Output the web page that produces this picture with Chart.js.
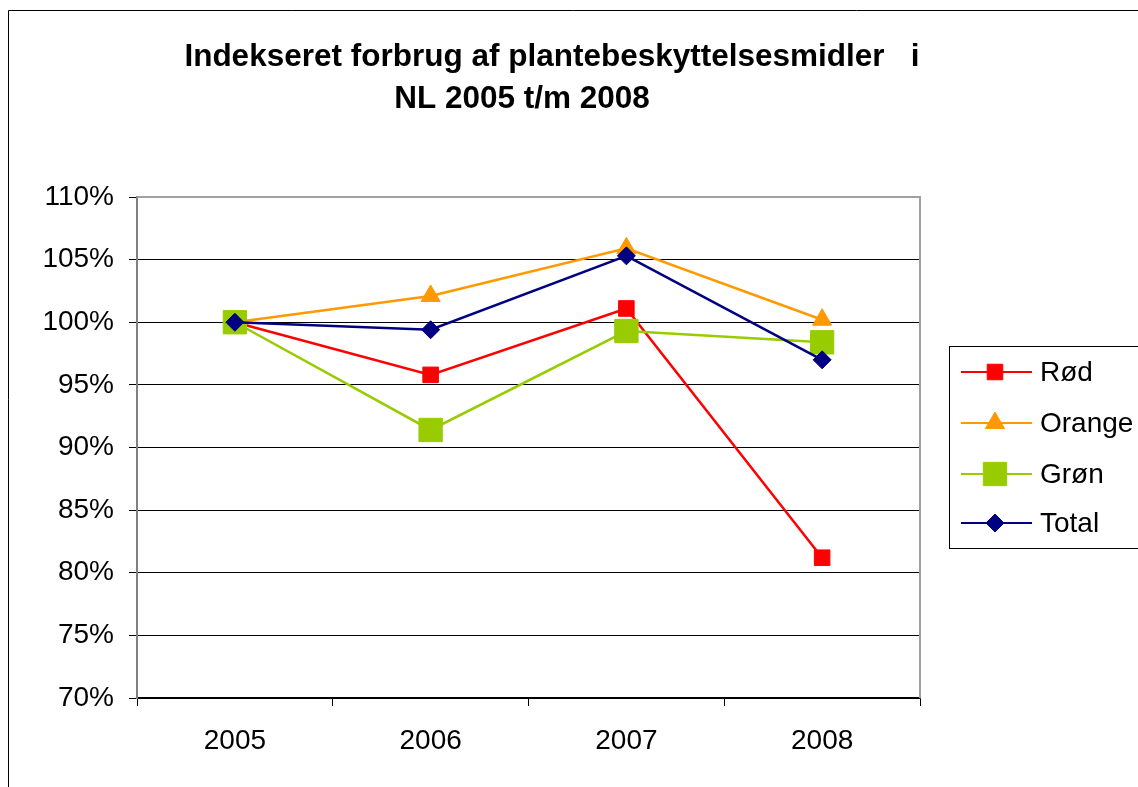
<!DOCTYPE html>
<html>
<head>
<meta charset="utf-8">
<script src="https://cdn.jsdelivr.net/npm/chart.js@4/dist/chart.umd.min.js"></script>
<style>
html,body{margin:0;padding:0;background:#fff;}
#wrap{width:1138px;height:787px;position:relative;}
</style>
</head>
<body>
<div id="wrap"><canvas id="c" width="1138" height="787"></canvas></div>
<script>
const categories = ['2005', '2006', '2007', '2008'];
const rodValues = [100, 95.8, 101.1, 81.2];
const orangeValues = [100, 102.1, 105.9, 100.2];
const gronValues = [100, 91.4, 99.3, 98.4];
const totalValues = [100, 99.4, 105.3, 97.0];
const seriesNames = ['Rød', 'Orange', 'Grøn', 'Total'];
const titleLines = ['Indekseret forbrug af plantebeskyttelsesmidler   i', 'NL 2005 t/m 2008'];
const yMin = 70, yMax = 110, yStep = 5;

const FONT = '"Liberation Sans", Arial, sans-serif';

const frame = {
  id: 'frame',
  beforeDraw(chart) {
    const ctx = chart.ctx;
    ctx.save();
    ctx.fillStyle = '#fff';
    ctx.fillRect(0, 0, chart.width, chart.height);
    ctx.strokeStyle = '#000';
    ctx.lineWidth = 1;
    ctx.beginPath();
    ctx.moveTo(8.5, 800);
    ctx.lineTo(8.5, 10.5);
    ctx.lineTo(1200, 10.5);
    ctx.stroke();
    ctx.restore();
  },
  beforeDatasetsDraw(chart) {
    const a = chart.chartArea, ctx = chart.ctx;
    ctx.save();
    ctx.strokeStyle = '#a0a0a0';
    ctx.lineWidth = 2;
    ctx.beginPath();
    ctx.moveTo(a.left, a.top);
    ctx.lineTo(a.right, a.top);
    ctx.lineTo(a.right, a.bottom);
    ctx.stroke();
    ctx.restore();
  },
  afterDraw(chart) {
    const ctx = chart.ctx;
    ctx.save();
    // title
    ctx.fillStyle = '#000';
    ctx.font = 'bold 31.5px ' + FONT;
    ctx.textAlign = 'center';
    ctx.textBaseline = 'alphabetic';
    ctx.fillText(titleLines[0], 552, 66);
    ctx.fillText(titleLines[1], 522, 108);
    // legend
    ctx.strokeStyle = '#000';
    ctx.lineWidth = 1;
    ctx.strokeRect(949.5, 346.5, 240, 202);
    const ys = [372, 423, 474, 523];
    const order = [0, 1, 2, 3];
    ctx.font = '28px ' + FONT;
    ctx.textAlign = 'left';
    ctx.textBaseline = 'middle';
    order.forEach((di, i) => {
      const ds = chart.data.datasets[di];
      const y = ys[i];
      ctx.strokeStyle = ds.borderColor;
      ctx.lineWidth = 2;
      ctx.beginPath();
      ctx.moveTo(961, y);
      ctx.lineTo(1032, y);
      ctx.stroke();
      ctx.fillStyle = ds.pointBackgroundColor;
      ctx.strokeStyle = ds.pointBorderColor;
      ctx.lineWidth = ds.pointBorderWidth;
      Chart.helpers.drawPoint(ctx, {pointStyle: ds.pointStyle, radius: ds.pointRadius, rotation: 0, borderWidth: ds.pointBorderWidth}, 995, y);
      ctx.fillStyle = '#000';
      ctx.fillText(seriesNames[di], 1040, y + 1);
    });
    ctx.restore();
  }
};

function ds(label, data, color, style, radius, order) {
  return {
    label, data,
    borderColor: color, backgroundColor: color,
    borderWidth: 2.5,
    pointStyle: style, pointRadius: radius, pointHoverRadius: radius,
    pointBackgroundColor: color, pointBorderColor: color, pointBorderWidth: 1,
    tension: 0, order
  };
}

new Chart(document.getElementById('c'), {
  type: 'line',
  data: {
    labels: categories,
    datasets: [
      ds(seriesNames[0], rodValues, '#ff0000', 'rect', 11, 3),
      ds(seriesNames[1], orangeValues, '#ff9900', 'triangle', 11, 2),
      ds(seriesNames[2], gronValues, '#99cc00', 'rect', 16.5, 1),
      ds(seriesNames[3], totalValues, '#000080', 'rectRot', 9, 0)
    ]
  },
  options: {
    responsive: false,
    animation: false,
    devicePixelRatio: 1,
    layout: { padding: { left: 0, top: 197, right: 218, bottom: 0 } },
    plugins: { legend: { display: false }, title: { display: false }, tooltip: { enabled: false } },
    scales: {
      x: {
        offset: true,
        afterFit(s) { s.height = 89; },
        grid: { offset: true, drawOnChartArea: false, drawTicks: true, tickLength: 8, tickColor: '#000' },
        border: { color: '#000', width: 1.5 },
        ticks: { color: '#000', font: { family: FONT, size: 28 }, padding: 18, maxRotation: 0 }
      },
      y: {
        min: yMin, max: yMax,
        afterFit(s) { s.width = 137; },
        grid: {
          color: (c) => (c.tick && c.tick.value === yMax) ? 'rgba(0,0,0,0)' : '#000',
          lineWidth: 1, tickLength: 8, tickColor: '#000'
        },
        border: { color: '#808080', width: 2 },
        ticks: { stepSize: yStep, color: '#000', font: { family: FONT, size: 28 }, padding: 15,
          callback: (v) => v + '%' }
      }
    }
  },
  plugins: [frame]
});
</script>
</body>
</html>
